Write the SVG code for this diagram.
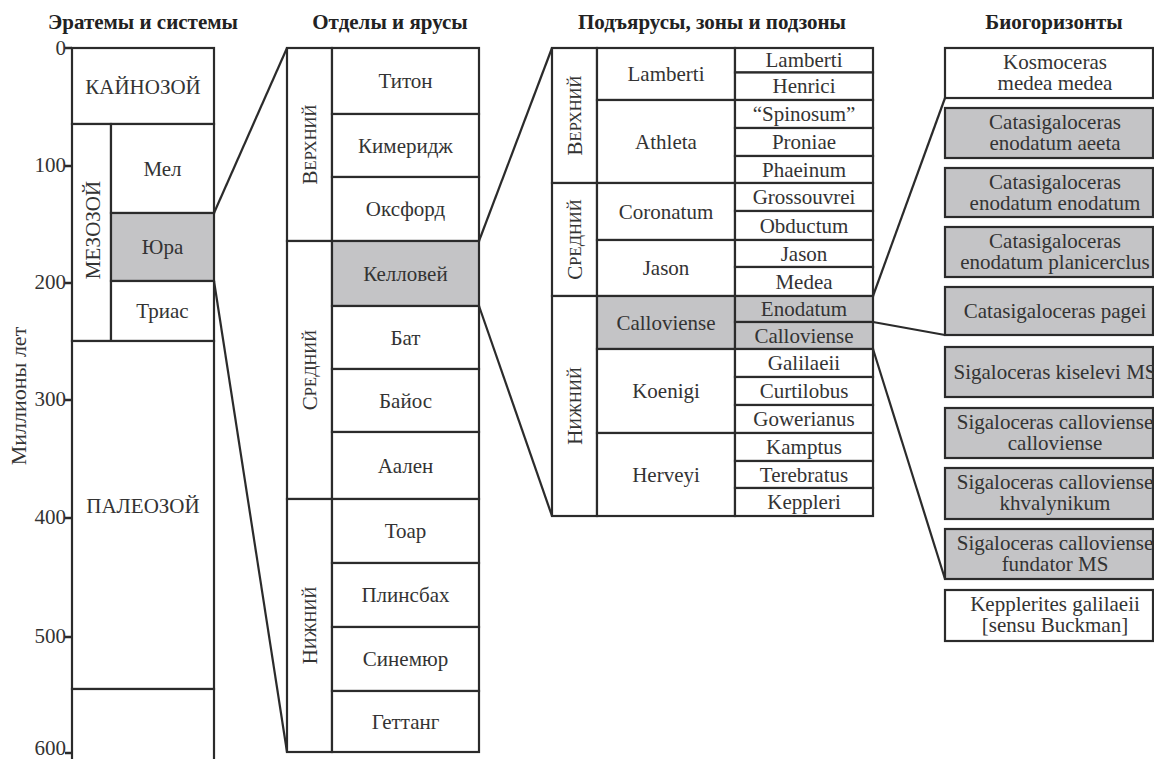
<svg xmlns="http://www.w3.org/2000/svg" width="1154" height="759" viewBox="0 0 1154 759">
<style>
.w{fill:#fff;stroke:#2b2b2b;stroke-width:2.2}
.g{fill:#c4c4c6;stroke:#2b2b2b;stroke-width:2.2}
.t{font-family:"Liberation Serif","Times New Roman",serif;font-size:21px;fill:#333;text-anchor:middle;dominant-baseline:central}
.h{font-family:"Liberation Serif","Times New Roman",serif;font-size:21px;font-weight:bold;fill:#222;text-anchor:middle}
.n{font-family:"Liberation Serif","Times New Roman",serif;font-size:21px;fill:#333;text-anchor:end;dominant-baseline:central}
.sc{font-size:16.5px}
.c{stroke:#2b2b2b;stroke-width:2.2;fill:none}
.tk{stroke:#2b2b2b;stroke-width:2.5}
</style>
<rect width="1154" height="759" fill="#fff"/>
<g id="titles">
<text class="h" x="143" y="29">Эратемы и системы</text>
<text class="h" x="390" y="29">Отделы и ярусы</text>
<text class="h" x="712" y="29">Подъярусы, зоны и подзоны</text>
<text class="h" x="1054" y="29">Биогоризонты</text>
</g>
<g id="axis">
<text class="t" style="font-size:22px" transform="translate(18,396) rotate(-90)">Миллионы лет</text>
<line class="tk" x1="65" y1="48" x2="72" y2="48"/>
<line class="tk" x1="65" y1="166" x2="72" y2="166"/>
<line class="tk" x1="65" y1="283" x2="72" y2="283"/>
<line class="tk" x1="65" y1="400" x2="72" y2="400"/>
<line class="tk" x1="65" y1="518" x2="72" y2="518"/>
<line class="tk" x1="65" y1="637" x2="72" y2="637"/>
<line class="tk" x1="65" y1="753" x2="72" y2="753"/>
<text class="n" x="66" y="48">0</text>
<text class="n" x="66" y="165">100</text>
<text class="n" x="66" y="282">200</text>
<text class="n" x="66" y="399">300</text>
<text class="n" x="66" y="517">400</text>
<text class="n" x="66" y="636">500</text>
<text class="n" x="66" y="748">600</text>
</g>
<g id="kainozoi"><rect class="w" x="72" y="48" width="142" height="76"/><text class="t" x="143" y="87">КАЙНОЗОЙ</text></g>
<g id="mezozoi"><rect class="w" x="72" y="124" width="39" height="217"/><text class="t" transform="translate(93,230) rotate(-90)">МЕЗОЗОЙ</text></g>
<g id="mel"><rect class="w" x="111" y="124" width="103" height="89"/><text class="t" x="162.5" y="168.5">Мел</text></g>
<g id="jura"><rect class="g" x="111" y="213" width="103" height="68"/><text class="t" x="162.5" y="247">Юра</text></g>
<g id="trias"><rect class="w" x="111" y="281" width="103" height="60"/><text class="t" x="162.5" y="311">Триас</text></g>
<g id="paleozoi"><rect class="w" x="72" y="341" width="142" height="348"/><text class="t" x="143" y="506">ПАЛЕОЗОЙ</text></g>
<g id="older"><rect class="w" x="72" y="689" width="142" height="120"/></g>

<g id="j-upper"><rect class="w" x="287" y="48" width="45" height="193"/><text class="t" transform="translate(310,144.5) rotate(-90)">В<tspan class="sc">ЕРХНИЙ</tspan></text></g>
<g id="j-middle"><rect class="w" x="287" y="241" width="45" height="258"/><text class="t" transform="translate(310,370) rotate(-90)">С<tspan class="sc">РЕДНИЙ</tspan></text></g>
<g id="j-lower"><rect class="w" x="287" y="499" width="45" height="253"/><text class="t" transform="translate(310,625.5) rotate(-90)">Н<tspan class="sc">ИЖНИЙ</tspan></text></g>
<g id="titon"><rect class="w" x="332" y="48" width="147" height="66"/><text class="t" x="405.5" y="81">Титон</text></g>
<g id="kimeridzh"><rect class="w" x="332" y="114" width="147" height="63"/><text class="t" x="405.5" y="145.5">Кимеридж</text></g>
<g id="oksford"><rect class="w" x="332" y="177" width="147" height="64"/><text class="t" x="405.5" y="209">Оксфорд</text></g>
<g id="kellovei"><rect class="g" x="332" y="241" width="147" height="65"/><text class="t" x="405.5" y="273.5">Келловей</text></g>
<g id="bat"><rect class="w" x="332" y="306" width="147" height="63"/><text class="t" x="405.5" y="337.5">Бат</text></g>
<g id="baios"><rect class="w" x="332" y="369" width="147" height="63"/><text class="t" x="405.5" y="400.5">Байос</text></g>
<g id="aalen"><rect class="w" x="332" y="432" width="147" height="67"/><text class="t" x="405.5" y="465.5">Аален</text></g>
<g id="toar"><rect class="w" x="332" y="499" width="147" height="64"/><text class="t" x="405.5" y="531">Тоар</text></g>
<g id="plinsbakh"><rect class="w" x="332" y="563" width="147" height="64"/><text class="t" x="405.5" y="595">Плинсбах</text></g>
<g id="sinemyur"><rect class="w" x="332" y="627" width="147" height="64"/><text class="t" x="405.5" y="659">Синемюр</text></g>
<g id="gettang"><rect class="w" x="332" y="691" width="147" height="61"/><text class="t" x="405.5" y="721.5">Геттанг</text></g>

<g id="c-upper"><rect class="w" x="552" y="48" width="45" height="135"/><text class="t" transform="translate(575,115.5) rotate(-90)">В<tspan class="sc">ЕРХНИЙ</tspan></text></g>
<g id="c-middle"><rect class="w" x="552" y="183" width="45" height="113"/><text class="t" transform="translate(575,239.5) rotate(-90)">С<tspan class="sc">РЕДНИЙ</tspan></text></g>
<g id="c-lower"><rect class="w" x="552" y="296" width="45" height="220"/><text class="t" transform="translate(575,406) rotate(-90)">Н<tspan class="sc">ИЖНИЙ</tspan></text></g>
<g id="z-lamberti"><rect class="w" x="597" y="48" width="138" height="52"/><text class="t" x="666" y="74">Lamberti</text></g>
<g id="z-athleta"><rect class="w" x="597" y="100" width="138" height="83"/><text class="t" x="666" y="141.5">Athleta</text></g>
<g id="z-coronatum"><rect class="w" x="597" y="183" width="138" height="57"/><text class="t" x="666" y="211.5">Coronatum</text></g>
<g id="z-jason"><rect class="w" x="597" y="240" width="138" height="56"/><text class="t" x="666" y="268">Jason</text></g>
<g id="z-calloviense"><rect class="g" x="597" y="296" width="138" height="53"/><text class="t" x="666" y="322.5">Calloviense</text></g>
<g id="z-koenigi"><rect class="w" x="597" y="349" width="138" height="84"/><text class="t" x="666" y="391">Koenigi</text></g>
<g id="z-herveyi"><rect class="w" x="597" y="433" width="138" height="83"/><text class="t" x="666" y="474.5">Herveyi</text></g>

<g id="s-lamberti"><rect class="w" x="735" y="48" width="138" height="24.5"/><text class="t" x="804" y="60">Lamberti</text></g>
<g id="s-henrici"><rect class="w" x="735" y="72.5" width="138" height="27.5"/><text class="t" x="804" y="86">Henrici</text></g>
<g id="s-spinosum"><rect class="w" x="735" y="100" width="138" height="28"/><text class="t" x="804" y="114">“Spinosum”</text></g>
<g id="s-proniae"><rect class="w" x="735" y="128" width="138" height="28"/><text class="t" x="804" y="142">Proniae</text></g>
<g id="s-phaeinum"><rect class="w" x="735" y="156" width="138" height="27"/><text class="t" x="804" y="169.5">Phaeinum</text></g>
<g id="s-grossouvrei"><rect class="w" x="735" y="183" width="138" height="28"/><text class="t" x="804" y="197">Grossouvrei</text></g>
<g id="s-obductum"><rect class="w" x="735" y="211" width="138" height="29"/><text class="t" x="804" y="225.5">Obductum</text></g>
<g id="s-jason"><rect class="w" x="735" y="240" width="138" height="27"/><text class="t" x="804" y="253.5">Jason</text></g>
<g id="s-medea"><rect class="w" x="735" y="267" width="138" height="29"/><text class="t" x="804" y="281.5">Medea</text></g>
<g id="s-enodatum"><rect class="g" x="735" y="296" width="138" height="26"/><text class="t" x="804" y="309">Enodatum</text></g>
<g id="s-calloviense"><rect class="g" x="735" y="322" width="138" height="27"/><text class="t" x="804" y="335.5">Calloviense</text></g>
<g id="s-galilaeii"><rect class="w" x="735" y="349" width="138" height="28"/><text class="t" x="804" y="363">Galilaeii</text></g>
<g id="s-curtilobus"><rect class="w" x="735" y="377" width="138" height="28"/><text class="t" x="804" y="391">Curtilobus</text></g>
<g id="s-gowerianus"><rect class="w" x="735" y="405" width="138" height="28"/><text class="t" x="804" y="419">Gowerianus</text></g>
<g id="s-kamptus"><rect class="w" x="735" y="433" width="138" height="28"/><text class="t" x="804" y="447">Kamptus</text></g>
<g id="s-terebratus"><rect class="w" x="735" y="461" width="138" height="27"/><text class="t" x="804" y="474.5">Terebratus</text></g>
<g id="s-keppleri"><rect class="w" x="735" y="488" width="138" height="28"/><text class="t" x="804" y="502">Keppleri</text></g>

<g id="b-kosmoceras"><rect class="w" x="945" y="48" width="208" height="50"/><text class="t" x="1055" y="62">Kosmoceras</text><text class="t" x="1055" y="83">medea medea</text></g>
<g id="b-aeeta"><rect class="g" x="945" y="108" width="208" height="50"/><text class="t" x="1055" y="122">Catasigaloceras</text><text class="t" x="1055" y="143">enodatum aeeta</text></g>
<g id="b-enodatum"><rect class="g" x="945" y="168" width="208" height="49"/><text class="t" x="1055" y="182">Catasigaloceras</text><text class="t" x="1055" y="203">enodatum enodatum</text></g>
<g id="b-planicerclus"><rect class="g" x="945" y="227" width="208" height="50"/><text class="t" x="1055" y="241">Catasigaloceras</text><text class="t" x="1055" y="262">enodatum planicerclus</text></g>
<g id="b-pagei"><rect class="g" x="945" y="287" width="208" height="48"/><text class="t" x="1055" y="311">Catasigaloceras pagei</text></g>
<g id="b-kiselevi"><rect class="g" x="945" y="347" width="208" height="50"/><text class="t" x="1055" y="372">Sigaloceras kiselevi MS</text></g>
<g id="b-calloviense"><rect class="g" x="945" y="408" width="208" height="50"/><text class="t" x="1055" y="422">Sigaloceras calloviense</text><text class="t" x="1055" y="443">calloviense</text></g>
<g id="b-khvalynikum"><rect class="g" x="945" y="468" width="208" height="51"/><text class="t" x="1055" y="482">Sigaloceras calloviense</text><text class="t" x="1055" y="503">khvalynikum</text></g>
<g id="b-fundator"><rect class="g" x="945" y="529" width="208" height="50"/><text class="t" x="1055" y="543">Sigaloceras calloviense</text><text class="t" x="1055" y="564">fundator MS</text></g>
<g id="b-kepplerites"><rect class="w" x="945" y="590" width="208" height="51"/><text class="t" x="1055" y="604">Kepplerites galilaeii</text><text class="t" x="1055" y="625">[sensu Buckman]</text></g>

<g id="connectors">
<line class="c" x1="214" y1="213" x2="287" y2="48"/>
<line class="c" x1="214" y1="281" x2="287" y2="752"/>
<line class="c" x1="479" y1="241" x2="552" y2="48"/>
<line class="c" x1="479" y1="306" x2="552" y2="516"/>
<line class="c" x1="873" y1="296" x2="945" y2="98"/>
<line class="c" x1="873" y1="322" x2="945" y2="335"/>
<line class="c" x1="873" y1="349" x2="945" y2="579"/>
</g>
</svg>
